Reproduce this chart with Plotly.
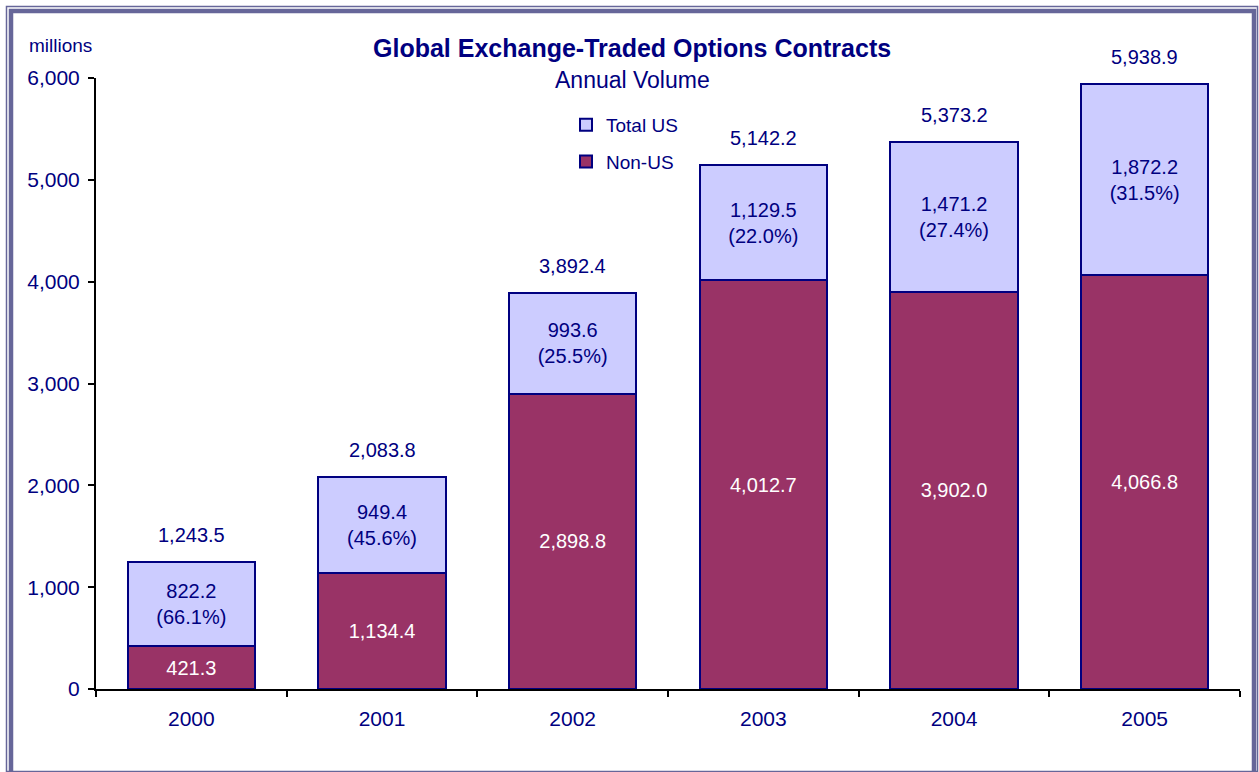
import plotly.graph_objects as go

years = ["2000", "2001", "2002", "2003", "2004", "2005"]
non_us = [421.3, 1134.4, 2898.8, 4012.7, 3902.0, 4066.8]
total_us = [822.2, 949.4, 993.6, 1129.5, 1471.2, 1872.2]
us_share = [66.1, 45.6, 25.5, 22.0, 27.4, 31.5]
totals = [1243.5, 2083.8, 3892.4, 5142.2, 5373.2, 5938.9]
y_ticks = [0, 1000, 2000, 3000, 4000, 5000, 6000]

NAVY = "#000080"
FONT = "Liberation Sans, Arial, sans-serif"
W, H = 1259, 772
L, R, T, B = 96, 19, 78, 83
PW, PH = W - L - R, H - T - B


def px(x):
    return (x - L) / PW


def py(y):
    return (H - B - y) / PH


fig = go.Figure()
fig.add_trace(go.Bar(
    x=years, y=non_us, name="Non-US", legendgroup="b", legendrank=2,
    marker=dict(color="#993366", line=dict(color=NAVY, width=2)),
    text=[f"{v:,.1f}" for v in non_us], textposition="inside",
    insidetextanchor="middle", textangle=0,
    textfont=dict(color="white", size=20, family=FONT),
    hoverinfo="skip",
))
fig.add_trace(go.Bar(
    x=years, y=total_us, name="Total US", legendgroup="a", legendrank=1,
    marker=dict(color="#CCCCFF", line=dict(color=NAVY, width=2)),
    text=[f"{v:,.1f}<br>({p:.1f}%)" for v, p in zip(total_us, us_share)],
    textposition="inside", insidetextanchor="middle", textangle=0,
    textfont=dict(color=NAVY, size=20, family=FONT),
    hoverinfo="skip",
))

annotations = []
for i, tot in enumerate(totals):
    annotations.append(dict(
        x=i, y=tot, xref="x", yref="y", text=f"{tot:,.1f}", showarrow=False,
        yanchor="middle", yshift=27, font=dict(size=20, color=NAVY, family=FONT),
    ))

annotations += [
    dict(x=px(631.5), y=py(48), xref="paper", yref="paper",
         text="<b>Global Exchange-Traded Options Contracts</b>", showarrow=False,
         xanchor="center", yanchor="middle", font=dict(size=25, color=NAVY, family=FONT)),
    dict(x=px(632), y=py(80), xref="paper", yref="paper", text="Annual Volume",
         showarrow=False, xanchor="center", yanchor="middle",
         font=dict(size=23, color=NAVY, family=FONT)),
    dict(x=px(27), y=py(46), xref="paper", yref="paper", text="millions",
         showarrow=False, xanchor="left", yanchor="middle",
         font=dict(size=19, color=NAVY, family=FONT)),
]

frame = "#666699"
shapes = [
    dict(type="rect", xref="paper", yref="paper", x0=px(6.5), x1=px(1257.5),
         y0=py(790), y1=py(6.5), line=dict(color=frame, width=1.5)),
    dict(type="rect", xref="paper", yref="paper", x0=px(11), x1=px(1254),
         y0=py(790), y1=py(11), line=dict(color=frame, width=4.5)),
    dict(type="line", xref="paper", yref="paper", x0=px(6.5), x1=px(1257.5),
         y0=py(771.5), y1=py(771.5), line=dict(color=frame, width=1.5)),
]

fig.update_layout(
    width=W, height=H,
    margin=dict(l=L, r=R, t=T, b=B),
    barmode="stack", bargap=1/3,
    paper_bgcolor="white", plot_bgcolor="white",
    font=dict(family=FONT, color=NAVY, size=20),
    showlegend=True,
    legend=dict(x=px(566), y=py(106), xanchor="left", yanchor="top",
                traceorder="grouped", tracegroupgap=9,
                font=dict(size=19, color=NAVY, family=FONT),
                bgcolor="rgba(0,0,0,0)"),
    annotations=annotations,
    shapes=shapes,
    uniformtext=dict(minsize=20, mode="show"),
)
fig.update_xaxes(
    type="category", range=[-0.5, 5.5],
    showline=True, linecolor="black", linewidth=2,
    ticks="outside", tickson="boundaries", ticklen=6, tickwidth=2, tickcolor="black",
    ticklabelstandoff=10,
    tickfont=dict(size=21, color=NAVY, family=FONT), showgrid=False,
)
fig.update_yaxes(
    range=[0, 6000], tickvals=y_ticks, tickformat=",",
    showline=True, linecolor="black", linewidth=2,
    ticks="outside", ticklen=6, tickwidth=2, tickcolor="black",
    ticklabelstandoff=4,
    tickfont=dict(size=21, color=NAVY, family=FONT), showgrid=False, zeroline=False,
)

fig.write_html("out.html", config={"displayModeBar": False},
               post_script="document.body.style.margin='0';")
